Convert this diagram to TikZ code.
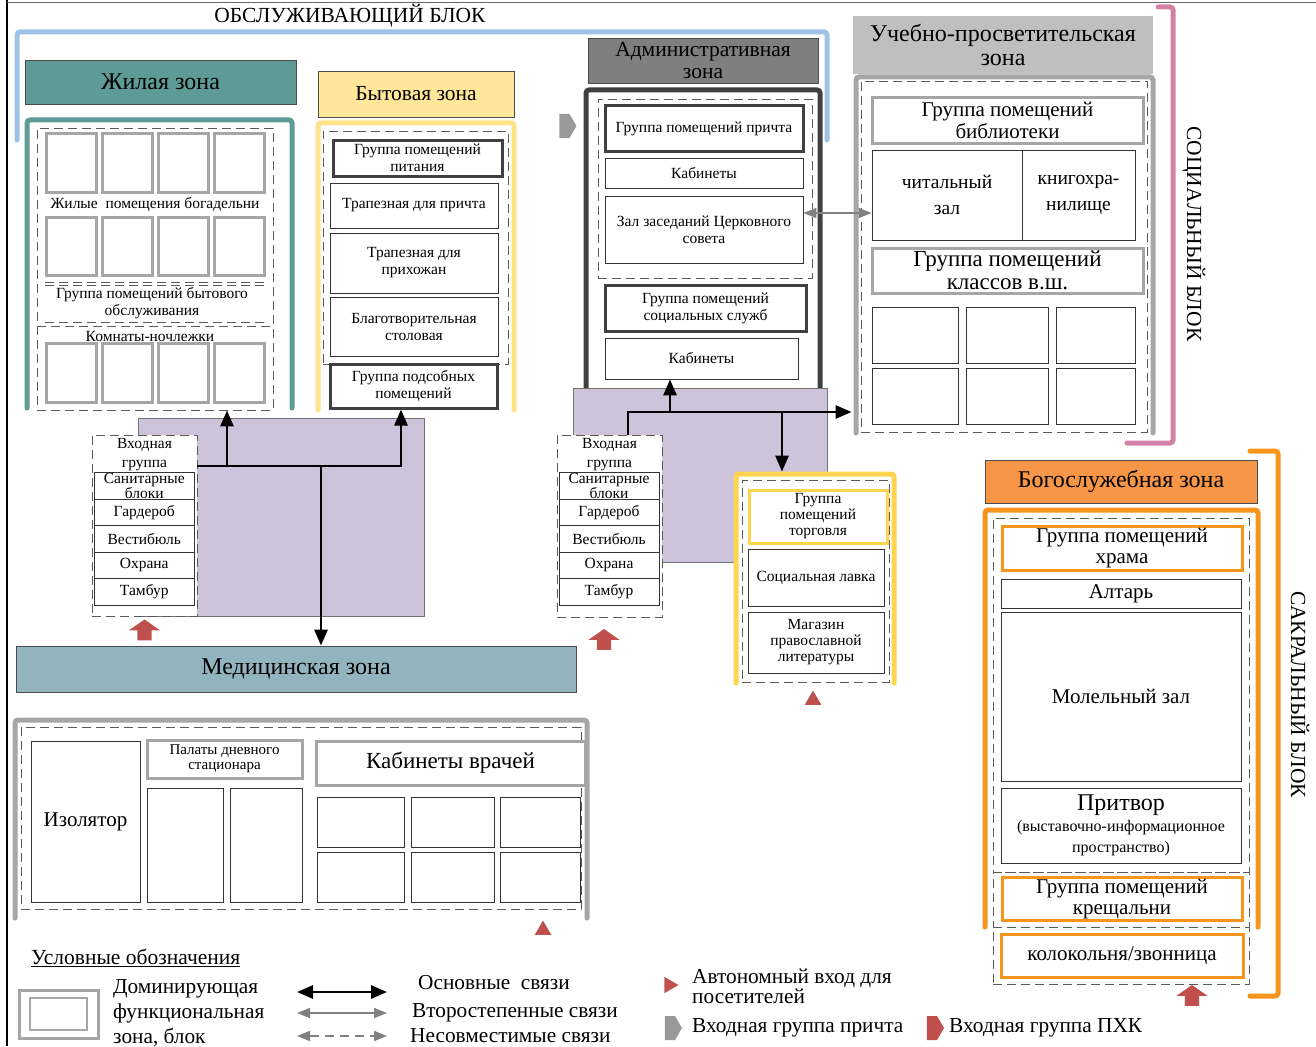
\documentclass[tikz,border=0pt]{standalone}
\usepackage{fontspec}
\setmainfont{Liberation Serif}
\usetikzlibrary{arrows.meta,shapes.geometric,shapes.arrows,shapes.symbols}

\definecolor{zhilcol}{HTML}{5F9B96}
\definecolor{bytcol}{HTML}{FFE699}
\definecolor{bytline}{HTML}{FFE38A}
\definecolor{torgline}{HTML}{FFD54F}
\definecolor{admhead}{HTML}{7F7F7F}
\definecolor{domgray}{HTML}{404040}
\definecolor{uchhead}{HTML}{BFBFBF}
\definecolor{litegray}{HTML}{A6A6A6}
\definecolor{lilac}{HTML}{CDC4DC}
\definecolor{medcol}{HTML}{93B4BE}
\definecolor{orangeline}{HTML}{F7941D}
\definecolor{orangehead}{HTML}{F79646}
\definecolor{pinkline}{HTML}{D580A6}
\definecolor{blueline}{HTML}{9DC3E6}
\definecolor{entrycol}{HTML}{C0504D}

\begin{document}
\begin{tikzpicture}[x=1pt, y=-1pt,
    >={Triangle[length=16pt,width=13pt]},
    sm/.style={font=\fontsize{15.5}{17}\selectfont},
    md/.style={font=\fontsize{21}{21.5}\selectfont},
    lg/.style={font=\fontsize{21.5}{22}\selectfont},
    xl/.style={font=\fontsize{24}{24}\selectfont},
    blk/.style={font=\fontsize{21.5}{22}\selectfont},
    head/.style={draw=black!70, line width=0.8pt, inner sep=0pt, align=center, lg},
    room/.style={draw=black!80, line width=0.8pt, fill=white, inner sep=1pt, align=center, sm},
    dom/.style={room, draw=domgray, line width=3pt},
    gbox/.style={room, draw=litegray, line width=3pt},
    obox/.style={room, draw=orangeline, line width=3pt},
    ybox/.style={room, draw=torgline, line width=3pt},
    cell/.style={draw=litegray, line width=3pt},
    zone/.style={line width=5pt, line cap=round, rounded corners=3pt},
    dbox/.style={draw=black!65, line width=0.8pt, dash pattern=on 9pt off 5pt, inner sep=0pt},
    lil/.style={fill=lilac, draw=black!55, line width=0.6pt, inner sep=0pt},
    main/.style={line width=2.8pt},
    sec/.style={<->, draw=black!50, line width=1.6pt, >={Triangle[length=13pt,width=10pt]}},
    pxk/.style={single arrow, fill=entrycol, rotate=90, inner xsep=5pt, inner ysep=7pt,
      single arrow head extend=8.5pt, single arrow tip angle=110, minimum height=21pt},
    prch/.style={signal, signal to=east, fill=#1, inner sep=0pt, minimum width=17pt,
      minimum height=24pt, signal pointer angle=120},
    tri/.style={regular polygon, regular polygon sides=3, fill=entrycol, inner sep=0pt, minimum size=19pt},
    leg/.style={font=\fontsize{21.3}{25}\selectfont, align=left, inner sep=0pt, anchor=west}
  ]
  \useasboundingbox (0,0) rectangle (1316,1046);
  \draw[line width=2.5pt] (7,0) -- (7,1046);
  \draw[black!60, line width=1.5pt] (7,2.5) -- (1316,2.5);

  % обслуживающий блок
  \node[blk] (obsl) at (350,16) {ОБСЛУЖИВАЮЩИЙ БЛОК};
  \draw[zone, blueline] (17,140) -- (17,32) -- (827,32) -- (827,140);

  % жилая зона
  \node[head, xl, fill=zhilcol, minimum width=271, minimum height=44] (hzhil) at (160.5,82) {Жилая зона};
  \draw[zone, zhilcol] (27,408) -- (27,120) -- (292,120) -- (292,408);
  \node[dbox, minimum width=236, minimum height=282] (zhilD) at (155,269) {};
  \foreach \x in {46,102,158,214}
    \foreach \y/\h in {133/59,217/58,343/59}
      \draw[cell] (\x,\y) rectangle ++(50,\h);
  \node[sm] (zhilT) at (155,205) {Жилые\ \ помещения богадельни};
  \draw[dbox] (45,282) -- (266,282) (45,285.5) -- (266,285.5);
  \node[sm, align=center] (zhilB) at (152,303) {Группа помещений бытового\\обслуживания};
  \draw[dbox] (45,322.5) -- (266,322.5) (37,326.5) -- (273,326.5);
  \node[sm] (zhilK) at (150,336) {Комнаты-ночлежки};

  % бытовая зона
  \node[head, fill=bytcol, minimum width=196, minimum height=46] (hbyt) at (416,94) {Бытовая зона};
  \draw[zone, bytline] (318,410) -- (318,123) -- (514,123) -- (514,410);
  \node[dbox, minimum width=185, minimum height=233] (bytD) at (415.5,247.5) {};
  \node[dom, minimum width=169, minimum height=36] (pitan) at (417.5,158) {Группа помещений\\питания};
  \node[room, minimum width=168, minimum height=45] (trp1) at (414,205.5) {Трапезная для причта};
  \node[room, minimum width=168, minimum height=60] (trp2) at (414,263) {Трапезная для\\прихожан};
  \node[room, minimum width=168, minimum height=59] (blag) at (414,326.5) {Благотворительная\\столовая};
  \node[dom, minimum width=167, minimum height=44] (podsob) at (413.5,386) {Группа подсобных\\помещений};

  % административная зона
  \node[head, fill=admhead, minimum width=230, minimum height=45] (hadm) at (703,60.5) {Административная\\зона};
  \draw[zone, domgray] (586,388) -- (586,90) -- (820,90) -- (820,388);
  \node[dbox, minimum width=214, minimum height=179] (admD) at (705,188.5) {};
  \node[dom, minimum width=198, minimum height=45] (prich) at (704,128.5) {Группа помещений причта};
  \node[room, minimum width=198, minimum height=30] (kab1) at (704,173) {Кабинеты};
  \node[room, minimum width=198, minimum height=67] (zal) at (704,229.5) {Зал заседаний Церковного\\совета};
  \node[dom, minimum width=201, minimum height=46] (socsl) at (705.5,308) {Группа помещений\\социальных служб};
  \node[room, minimum width=193, minimum height=41] (kab2) at (701.5,358.5) {Кабинеты};
  \node[prch=black!40] (prchA) at (564.5,126) {};

  % учебно-просветительская зона
  \node[head, xl, draw=none, fill=uchhead, minimum width=300, minimum height=58] (huch) at (1003,45) {Учебно-просветительская\\зона};
  \draw[zone, litegray] (856,433) -- (856,77) -- (1153,77) -- (1153,433);
  \node[dbox, minimum width=286, minimum height=351] (uchD) at (1004,256.5) {};
  \node[gbox, md, minimum width=271, minimum height=45] (bibl) at (1007.5,120.5) {Группа помещений\\библиотеки};
  \node[room, font=\fontsize{19.5}{26}\selectfont, minimum width=150, minimum height=90] (chit) at (947,195) {читальный\\зал};
  \node[room, font=\fontsize{19.5}{26}\selectfont, minimum width=113, minimum height=90] (knig) at (1078.5,195) {книгохра-\\нилище};
  \node[gbox, font=\fontsize{23}{23}\selectfont, minimum width=271, minimum height=45] (klass) at (1007.5,270.5) {Группа помещений\\классов в.ш.};
  \foreach \x/\w in {872/86,966/82,1056/79}
    \foreach \y in {307,368}
      \draw[room] (\x,\y) rectangle ++(\w,56);
  \draw[zone, pinkline] (1158,7) -- (1173,7) -- (1173,443) -- (1127,443);
  \node[blk, rotate=-90] (socbl) at (1194,234) {СОЦИАЛЬНЫЙ БЛОК};
  \coordinate (s1) at (0,213);
  \draw[sec] (zal.east |- s1) -- (chit.west |- s1);

  % входные группы
  \node[lil, minimum width=286, minimum height=198] (lilL) at (281,517) {};
  \node[lil, minimum width=254, minimum height=174] (lilR) at (700,475) {};
  \node[dbox, fill=white, minimum width=105, minimum height=181] (entL) at (144.5,525.5) {};
  \node[dbox, fill=white, minimum width=105, minimum height=182] (entR) at (609.5,526) {};
  \node[sm, font=\fontsize{15.5}{19}\selectfont, align=center] (entLt) at (144.5,455) {Входная\\группа};
  \node[sm, font=\fontsize{15.5}{19}\selectfont, align=center] (entRt) at (609.5,455) {Входная\\группа};
  \foreach \t/\y [count=\i] in {{Санитарные\\блоки}/486,Гардероб/512.5,Вестибюль/539,Охрана/565.5,Тамбур/592}{
    \node[room, font=\fontsize{15.5}{13}\selectfont, minimum width=99.5, minimum height=26.5] (entL\i) at (144.25,\y) {\t};
    \node[room, font=\fontsize{15.5}{13}\selectfont, minimum width=100, minimum height=26.5] (entR\i) at (609,\y) {\t};
  }
  \node[pxk] (pxk1) at (144.5,632.5) {};
  \node[pxk] (pxk2) at (604,642) {};

  % торговля
  \fill[white] (736,474) rectangle (894,683);
  \draw[zone, torgline] (736,683) -- (736,474) -- (894,474) -- (894,683);
  \node[dbox, minimum width=147, minimum height=202] (torgD) at (815.5,581) {};
  \node[ybox, font=\fontsize{15.5}{16}\selectfont, minimum width=138, minimum height=53] (torg) at (818,516.5) {Группа\\помещений\\торговля};
  \node[room, minimum width=136, minimum height=57] (lavka) at (816,577.5) {Социальная лавка};
  \node[room, font=\fontsize{15.5}{16}\selectfont, minimum width=136, minimum height=61] (magaz) at (816,642.5) {Магазин\\православной\\литературы};
  \node[tri] (av1) at (813,700) {};

  % основные связи
  \coordinate (bL1) at (227,466);
  \coordinate (bL2) at (401,466);
  \coordinate (bL3) at (321,466);
  \draw[main,->] (entL.east |- bL1) -| (bL2 |- podsob.south);
  \draw[main,->] (bL1) -- (bL1 |- zhilD.south);
  \coordinate (bR1) at (628,412);
  \coordinate (bR2) at (670,412);
  \coordinate (bR3) at (782,412);
  \draw[main,->, shorten >=9pt] (entR.north -| bR1) |- (uchD.west |- bR1);
  \draw[main,->] (bR2) -- (bR2 |- kab2.south);
  \draw[main,->, shorten >=8pt] (bR3) -- (bR3 |- torgD.north);

  % медицинская зона
  \node[head, xl, fill=medcol, minimum width=560, minimum height=46] (med) at (296,669) {Медицинская зона};
  \draw[main,->] (bL3) -- (bL3 |- med.north);
  \draw[zone, litegray] (15,918) -- (15,720) -- (587,720) -- (587,918);
  \node[dbox, minimum width=560, minimum height=182] (medD) at (301,818) {};
  \node[room, font=\fontsize{21}{22}\selectfont, minimum width=109, minimum height=161] (izol) at (85.5,821.5) {Изолятор};
  \node[gbox, font=\fontsize{15}{15}\selectfont, minimum width=155, minimum height=38] (palat) at (224.5,759) {Палаты дневного\\стационара};
  \draw[room] (147,788) rectangle (223,902) (230,788) rectangle (302,902);
  \node[gbox, font=\fontsize{23}{24}\selectfont, minimum width=269, minimum height=44] (vrach) at (450.5,763) {Кабинеты врачей};
  \foreach \x/\w in {317/87,411/83,500.5/80}
    \foreach \y in {797,852}
      \draw[room] (\x,\y) rectangle ++(\w,50);
  \node[tri] (av2) at (543,930) {};

  % богослужебная зона
  \node[head, xl, fill=orangehead, minimum width=272, minimum height=43] (hbog) at (1121,481.5) {Богослужебная зона};
  \draw[zone, orangeline] (985,927) -- (985,510) -- (1258,510) -- (1258,927);
  \node[dbox, minimum width=256, minimum height=354] (bogD1) at (1121,695) {};
  \node[dbox, minimum width=256, minimum height=55] (bogD2) at (1121,899.5) {};
  \node[dbox, minimum width=256, minimum height=57] (bogD3) at (1121,955.5) {};
  \node[obox, md, minimum width=240, minimum height=44] (hram) at (1122,548) {Группа помещений\\храма};
  \node[room, md, minimum width=240, minimum height=29] (altar) at (1121,593.5) {Алтарь};
  \node[room, md, minimum width=240, minimum height=169] (molel) at (1121,696.5) {Молельный зал};
  \node[room, font=\fontsize{16}{21}\selectfont, minimum width=240, minimum height=75] (pritv) at (1121,825.5) {{\fontsize{24}{24}\selectfont Притвор}\\(выставочно-информационное\\пространство)};
  \node[obox, md, minimum width=240, minimum height=42] (kresch) at (1122,899) {Группа помещений\\крещальни};
  \node[obox, md, minimum width=242, minimum height=43] (kolok) at (1122,955.5) {колокольня/звонница};
  \draw[zone, orangeline] (1250,451) -- (1278,451) -- (1278,996) -- (1250,996);
  \node[blk, rotate=-90] (sakbl) at (1300,695) {САКРАЛЬНЫЙ БЛОК};
  \node[pxk] (pxk3) at (1192,998) {};

  % условные обозначения
  \node[anchor=west, inner sep=0pt, font=\fontsize{21.5}{22}\selectfont] (legT) at (31,958) {\underline{Условные обозначения}};
  \node[gbox, minimum width=79, minimum height=48] (legD) at (58.5,1014) {};
  \node[draw=litegray, line width=2pt, minimum width=57, minimum height=32, inner sep=0pt] (legDi) at (legD) {};
  \node[leg] (legDt) at (113,1013) {Доминирующая\\функциональная\\зона, блок};
  \coordinate (la1) at (297,992);  \coordinate (lb1) at (387,992);
  \coordinate (la2) at (297,1013); \coordinate (lb2) at (387,1013);
  \coordinate (la3) at (297,1036); \coordinate (lb3) at (387,1036);
  \draw[main,<->] (la1) -- (lb1);
  \draw[sec] (la2) -- (lb2);
  \draw[sec, dash pattern=on 9pt off 6pt] (la3) -- (lb3);
  \node[leg] (leg1) at (418,983) {Основные\ \ связи};
  \node[leg] (leg2) at (412,1013) {Второстепенные связи};
  \node[leg] (leg3) at (410,1036) {Несовместимые связи};
  \node[tri, rotate=-90] (legav) at (669,985) {};
  \node[leg, font=\fontsize{21.3}{20}\selectfont] (leg4) at (692,986) {Автономный вход для\\посетителей};
  \node[prch=black!40] (legpr) at (670,1028) {};
  \node[leg] (leg5) at (692,1028) {Входная группа причта};
  \node[prch=entrycol] (legpx) at (932,1028) {};
  \node[leg] (leg6) at (949,1028) {Входная группа ПХК};
\end{tikzpicture}
\end{document}
